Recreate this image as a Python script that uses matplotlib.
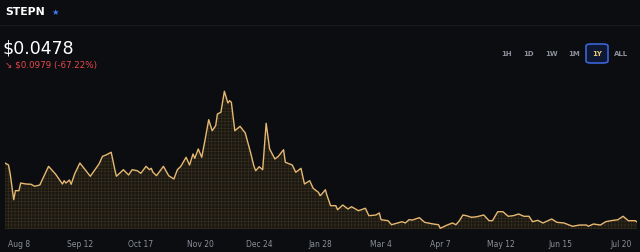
import matplotlib
matplotlib.use('Agg')
import matplotlib.pyplot as plt
from matplotlib.patches import FancyBboxPatch
import numpy as np

##################################### data
dates = ['2024-07-31', '2024-08-02', '2024-08-03', '2024-08-05', '2024-08-06', '2024-08-08', '2024-08-09',
         '2024-08-12', '2024-08-15', '2024-08-17', '2024-08-20', '2024-08-25', '2024-08-29', '2024-09-02',
         '2024-09-03', '2024-09-04', '2024-09-06', '2024-09-07', '2024-09-09', '2024-09-12', '2024-09-15',
         '2024-09-18', '2024-09-23', '2024-09-25', '2024-09-27', '2024-09-30', '2024-10-02', '2024-10-03',
         '2024-10-07', '2024-10-10', '2024-10-12', '2024-10-15', '2024-10-17', '2024-10-20', '2024-10-22',
         '2024-10-23', '2024-10-24', '2024-10-26', '2024-10-30', '2024-11-02', '2024-11-05', '2024-11-07',
         '2024-11-09', '2024-11-12', '2024-11-14', '2024-11-16', '2024-11-17', '2024-11-19', '2024-11-21',
         '2024-11-23', '2024-11-25', '2024-11-27', '2024-11-29', '2024-11-30', '2024-12-02', '2024-12-04',
         '2024-12-06', '2024-12-07', '2024-12-08', '2024-12-10', '2024-12-13', '2024-12-15', '2024-12-16',
         '2024-12-19', '2024-12-21', '2024-12-22', '2024-12-24', '2024-12-26', '2024-12-28', '2024-12-30',
         '2025-01-02', '2025-01-04', '2025-01-07', '2025-01-08', '2025-01-12', '2025-01-14', '2025-01-17',
         '2025-01-19', '2025-01-22', '2025-01-24', '2025-01-27', '2025-01-28', '2025-01-29', '2025-01-31',
         '2025-02-01', '2025-02-03', '2025-02-06', '2025-02-07', '2025-02-10', '2025-02-13', '2025-02-15',
         '2025-02-19', '2025-02-23', '2025-02-25', '2025-03-01', '2025-03-03', '2025-03-04', '2025-03-08',
         '2025-03-10', '2025-03-16', '2025-03-18', '2025-03-20', '2025-03-22', '2025-03-26', '2025-03-29',
         '2025-04-03', '2025-04-06', '2025-04-07', '2025-04-11', '2025-04-14', '2025-04-16', '2025-04-18',
         '2025-04-20', '2025-04-22', '2025-04-25', '2025-04-28', '2025-05-02', '2025-05-05', '2025-05-07',
         '2025-05-10', '2025-05-13', '2025-05-16', '2025-05-19', '2025-05-22', '2025-05-25', '2025-05-28',
         '2025-05-30', '2025-06-02', '2025-06-05', '2025-06-10', '2025-06-13', '2025-06-17', '2025-06-22',
         '2025-06-26', '2025-06-30', '2025-07-01', '2025-07-04', '2025-07-08', '2025-07-11', '2025-07-14',
         '2025-07-18', '2025-07-21', '2025-07-24', '2025-07-28', '2025-07-29']
prices = [0.1457, 0.1424, 0.1275, 0.0848, 0.0998, 0.0998, 0.1125,
          0.1109, 0.1104, 0.1071, 0.1092, 0.1402, 0.1275, 0.1109,
          0.1164, 0.1125, 0.1175, 0.1104, 0.1275, 0.1457, 0.1346,
          0.1237, 0.1441, 0.1568, 0.1590, 0.1635, 0.1358, 0.1237,
          0.1346, 0.1258, 0.1346, 0.1329, 0.1286, 0.1402, 0.1346,
          0.1369, 0.1303, 0.1247, 0.1402, 0.1247, 0.1192, 0.1346,
          0.1402, 0.1552, 0.1424, 0.1607, 0.1535, 0.1690, 0.1552,
          0.1856, 0.2176, 0.1993, 0.2076, 0.2270, 0.2299, 0.2647,
          0.2453, 0.2491, 0.2465, 0.1993, 0.2066, 0.1993, 0.1955,
          0.1635, 0.1402, 0.1329, 0.1396, 0.1346, 0.2116, 0.1690,
          0.1524, 0.1568, 0.1678, 0.1469, 0.1424, 0.1303, 0.1369,
          0.1109, 0.1164, 0.1037, 0.0971, 0.0915, 0.0943, 0.1014,
          0.0915, 0.0749, 0.0749, 0.0682, 0.0760, 0.0694, 0.0732,
          0.0666, 0.0706, 0.0583, 0.0594, 0.0628, 0.0516, 0.0500,
          0.0433, 0.0483, 0.0462, 0.0516, 0.0511, 0.0550, 0.0473,
          0.0445, 0.0433, 0.0374, 0.0428, 0.0462, 0.0433, 0.0500,
          0.0594, 0.0583, 0.0556, 0.0566, 0.0594, 0.0500, 0.0500,
          0.0649, 0.0649, 0.0573, 0.0583, 0.0611, 0.0573, 0.0573,
          0.0483, 0.0506, 0.0462, 0.0528, 0.0473, 0.0462, 0.0407,
          0.0428, 0.0428, 0.0407, 0.0445, 0.0428, 0.0483, 0.0500,
          0.0516, 0.0573, 0.0500, 0.0500, 0.0478]
tick_dates = ['2024-08-08', '2024-09-12', '2024-10-17', '2024-11-20', '2024-12-24', '2025-01-28',
              '2025-03-04', '2025-04-07', '2025-05-12', '2025-06-15', '2025-07-20']
tick_labels = ['Aug 8', 'Sep 12', 'Oct 17', 'Nov 20', 'Dec 24', 'Jan 28',
               'Mar 4', 'Apr 7', 'May 12', 'Jun 15', 'Jul 20']
ranges = ['1H', '1D', '1W', '1M', '1Y', 'ALL']
#####################################

BG = '#0b0d10'
LINE = '#e6b872'
GREY = '#8b8f98'

x = np.array(dates, dtype='datetime64[D]')
y = np.array(prices)
y_base = 0.0362

fig = plt.figure(figsize=(6.4, 2.53), dpi=100, facecolor=BG)
plt.rcParams['hatch.linewidth'] = 0.35

# header
fig.text(5/640, 1 - 12/253, 'STEPN', color='white', fontsize=7.8, fontweight='bold', va='center', ha='left')
fig.text(55/640, 1 - 12/253, '★', color='#3f7cf5', fontsize=6, va='center', ha='center')
fig.add_artist(plt.Line2D([0, 1], [1 - 26/253, 1 - 26/253], color='#16191e', lw=0.8))
fig.text(3/640, 1 - 48/253, '$0.0478', color='white', fontsize=12.5, va='center', ha='left')
fig.text(5/640, 1 - 65/253, '↘ $0.0979 (-67.22%)', color='#e5484d', fontsize=6.3, va='center', ha='left')

# range buttons
btn_x = [507, 529, 551, 574, 597, 621]
for lab, bx in zip(ranges, btn_x):
    col = '#e8c872' if lab == '1Y' else GREY
    if lab == '1Y':
        box = FancyBboxPatch(((bx - 11)/640, 1 - 64/253), 22/640, 19/253,
                             boxstyle='round,pad=0,rounding_size=0.008', transform=fig.transFigure,
                             facecolor='#0e1833', edgecolor='#3b63d6', lw=1.2)
        fig.add_artist(box)
    fig.text(bx/640, 1 - 54.5/253, lab, color=col, fontsize=5, va='center', ha='center', fontweight='bold')

# chart
ax = fig.add_axes([5/640, (253 - 230)/253, 632/640, (230 - 85)/253])
ax.set_facecolor(BG)
ax.fill_between(x, y, y_base, facecolor='#1b1812', edgecolor='#3a3222', hatch='+++++', lw=0)
ax.plot(x, y, color=LINE, lw=1.0)
ax.set_xlim(x[0], x[-1])
ax.set_ylim(y_base, 0.0362 + 145/602.6)
ax.set_yticks([])
ax.set_xticks(np.array(tick_dates, dtype='datetime64[D]'))
ax.set_xticklabels(tick_labels, color=GREY, fontsize=5.5)
ax.tick_params(axis='x', length=0, pad=7)
for s in ax.spines.values():
    s.set_visible(False)

fig.savefig('out.png', dpi=100, facecolor=BG)
